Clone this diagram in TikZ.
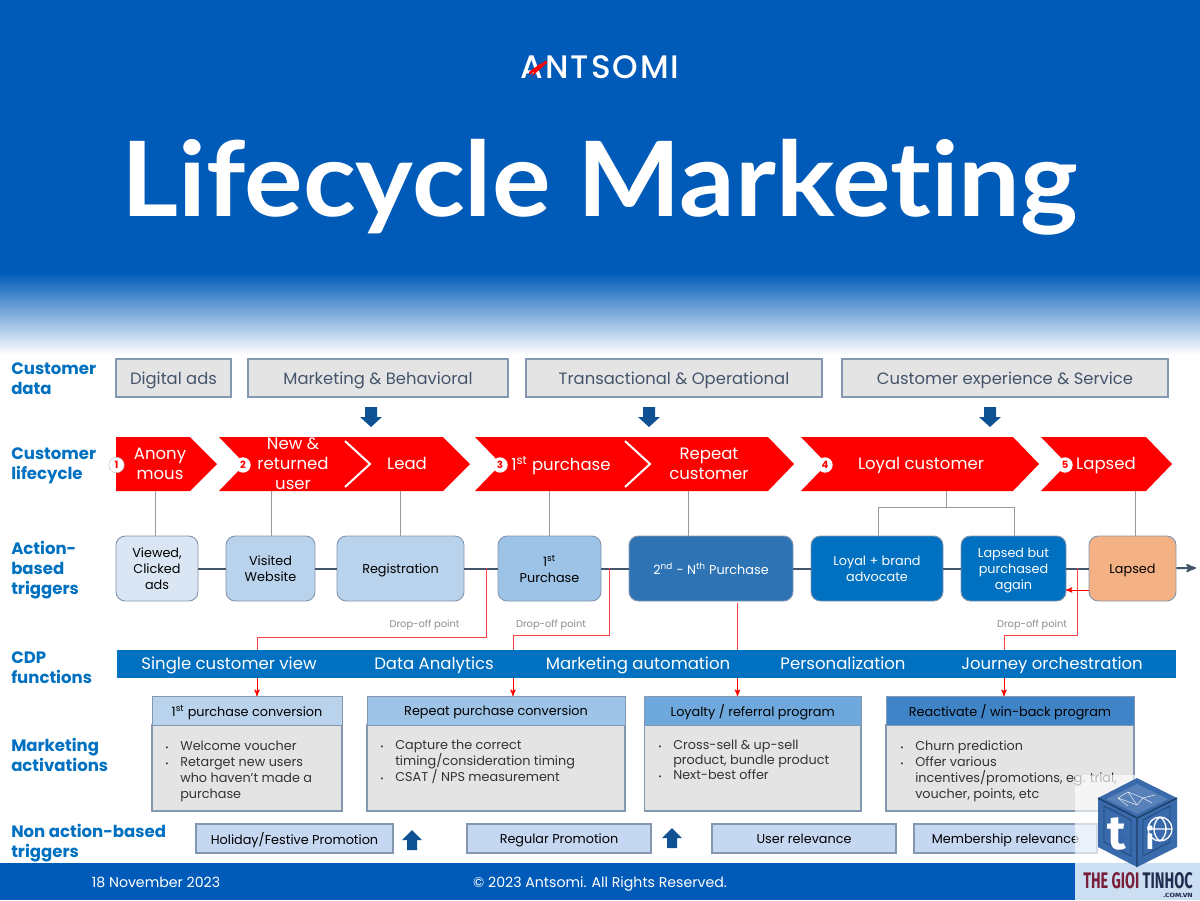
\documentclass[tikz,border=0pt]{standalone}
\usepackage{fontspec}
\setmainfont{Poppins}
\newfontfamily\titlefont[Ligatures=NoCommon]{Lato}
\newfontfamily\logofont[LetterSpace=6]{Poppins Medium}
\newfontfamily\markfont{Fira Sans}
\usetikzlibrary{arrows}
\usetikzlibrary{calc}
\definecolor{brandblue}{HTML}{005BB8}
\definecolor{cdpblue}{HTML}{0070C0}
\definecolor{arrowblue}{HTML}{0F5293}
\definecolor{slateline}{HTML}{44546A}
\definecolor{edgeblue}{HTML}{8497B0}
\definecolor{greyfill}{HTML}{E4E4E4}
\definecolor{greytext}{HTML}{44546A}
\definecolor{pale}{HTML}{DAE6F3}
\definecolor{midblue}{HTML}{BAD3EC}
\definecolor{skyblue}{HTML}{9DC3E6}
\definecolor{steelblue}{HTML}{2E74B5}
\definecolor{loyalhead}{HTML}{6FA8DC}
\definecolor{winhead}{HTML}{3F84C6}
\definecolor{apricot}{HTML}{F4B183}
\definecolor{lightreg}{HTML}{C5D7F1}
\definecolor{markred}{HTML}{7A1F3A}
\definecolor{marknavy}{HTML}{1F2D50}
\definecolor{cubeblue}{HTML}{2F62A8}
\newcommand{\st}{\vphantom{Ag}}
\newcommand{\bul}{\makebox[11.25pt][l]{{\fontsize{6}{6}\selectfont\textbullet}}}
\newcommand{\ind}{\hspace*{11.25pt}}
\tikzset{
  evenbase/.style={execute at begin node=\st, execute at end node=\st, yshift=-1.5pt},
  databox/.style={draw=edgeblue, line width=.8pt, fill=greyfill, inner sep=0, minimum height=28.5pt},
  datatext/.style={evenbase, text=greytext, inner sep=0, font=\fontsize{12.3}{15}\selectfont},
  chevtext/.style={evenbase, text=white, align=center, inner sep=0, font=\fontsize{12.4}{15}\selectfont},
  numdot/.style={circle, fill=white, text=red, inner sep=0, minimum size=11.5pt, font=\fontsize{7.5}{8}\selectfont\bfseries},
  trigbox/.style={draw=edgeblue, line width=.7pt, rounded corners=7pt, inner sep=0, minimum height=48.75pt},
  trigtext/.style={evenbase, align=center, inner sep=0, font=\fontsize{9.6}{12}\selectfont},
  acthead/.style={draw=edgeblue, line width=.7pt, inner sep=0, minimum height=21.75pt},
  headtext/.style={evenbase, inner sep=0, text=black, font=\fontsize{9.6}{12}\selectfont},
  actbody/.style={draw=edgeblue, line width=.8pt, fill=greyfill, inner sep=0, minimum height=64.5pt},
  acttext/.style={anchor=north west, align=left, inner sep=0, text=black!80, font=\fontsize{9.6}{12}\selectfont},
  nonbox/.style={draw=edgeblue, line width=.8pt, fill=lightreg, inner sep=0, minimum height=21.75pt},
  sidelabel/.style={evenbase, anchor=west, align=left, inner sep=0, text=cdpblue, font=\fontsize{12.4}{15}\selectfont\bfseries},
  bandtext/.style={evenbase, text=white, inner sep=0, font=\fontsize{12.4}{15}\selectfont},
  dropnote/.style={evenbase, text=black!45, inner sep=0, font=\fontsize{7.4}{9}\selectfont},
  footnote/.style={evenbase, text=white, inner sep=0, font=\fontsize{10.6}{13}\selectfont},
  linkline/.style={draw=black!40, line width=.6pt},
  redline/.style={draw=red!75, line width=.75pt},
  redtip/.style={draw=red, line width=.75pt, ->, >=stealth'},
}
\begin{document}
\begin{tikzpicture}[x=.75pt, y=-.75pt]
\useasboundingbox (0,0) rectangle (1200,900);
% header
\fill[brandblue] (0,0) rectangle (1200,273);
\shade[top color=brandblue, bottom color=white] (0,273) rectangle (1200,355);
\fill[brandblue] (0,863) rectangle (1200,900);
\node[inner sep=0, text=white] (logo) at (600,67) {\logofont\fontsize{24.4}{28}\selectfont ANTSOMI};
\draw[red, line width=2pt, line cap=round] (530,73) -- (538,67) -- (536,71) -- (546,62);
\node[inner sep=0, text=white] (title) at (600,187) {\titlefont\fontsize{78}{90}\selectfont\bfseries\resizebox*{717.5pt}{72pt}{Lifecycle Marketing}};

% side labels
\foreach \name/\y/\txt in {lbdata/379/{Customer\\data}, lblife/464/{Customer\\lifecycle}, lbaction/568/{Action-\\based\\triggers}, lbcdp/668/{CDP\\functions}, lbact/755/{Marketing\\activations}, lbnon/841/{Non action-based\\triggers}}
  \node[sidelabel] (\name) at (11,\y) {\txt};

% customer data
\foreach \name/\xa/\xb/\txt in {ads/116/231/{Digital ads}, behav/248/508/{Marketing \& Behavioral}, trans/526/822/{Transactional \& Operational}, serv/842/1168/{Customer experience \& Service}} {
  \node[databox, minimum width={(\xb-\xa)*.75pt}] (\name) at ({(\xa+\xb)/2},378) {};
  \node[datatext] (\name text) at (\name) {\txt};
}
\foreach \x in {371,649,990}
  \fill[arrowblue] (\x-6,407) -- (\x+6,407) -- (\x+6,417) -- (\x+11,417) -- (\x,427) -- (\x-11,417) -- (\x-6,417) -- cycle;

% lifecycle chevrons
\fill[red] (116,437) -- (190,437) -- (217,464) -- (190,491) -- (116,491) -- cycle;
\foreach \l/\n/\t in {219/443/470, 475/768/794, 801/1013/1039, 1041/1146/1172}
  \fill[red] (\l,437) -- (\n,437) -- (\t,464) -- (\n,491) -- (\l,491) -- (\l+26,464) -- cycle;
\foreach \x in {345,625}
  \draw[white, line width=1.5pt] (\x,441) -- (\x+25,464) -- (\x,487);
\foreach \name/\x/\txt in {anony/160/{Anony\\mous}, newuser/293/{New \&\\returned\\user}, lead/407/{Lead}, firstbuy/561/{1\textsuperscript{st} purchase}, repeat/709/{Repeat\\customer}, loyal/921/{Loyal customer}, gone/1106/{Lapsed}}
  \node[chevtext] (\name) at (\x,463.5) {\txt};
\foreach \name/\x/\n in {num1/116.5/1, num2/243/2, num3/500/3, num4/825/4, num5/1065/5}
  \node[numdot] (\name) at (\x,465) {\n};
\draw[black!25, line width=.4pt] (num1) circle (7.7);

% triggers
\coordinate (lineend) at (1196,568);
\foreach \name/\xa/\xb/\col/\tcol/\txt in {viewed/116/198/pale/black/{Viewed,\\Clicked\\ads}, visited/226/315/midblue/black/{Visited\\Website}, regist/337/464/midblue/black/{Registration}, first/498/601/skyblue/black/{1\textsuperscript{st}\\Purchase}, nth/629/793/steelblue/white/{2\textsuperscript{nd} - N\textsuperscript{th} Purchase}, brand/811/943/cdpblue/white/{Loyal + brand\\advocate}, again/961/1066/cdpblue/white/{Lapsed but\\purchased\\again}, lapsed/1089/1176/apricot/black/{Lapsed}} {
  \node[trigbox, fill=\col, minimum width={(\xb-\xa)*.75pt}] (\name) at ({(\xa+\xb)/2},568.5) {};
  \node[trigtext, text=\tcol] (\name text) at (\name) {\txt};
}
\foreach \a/\b in {viewed/visited, visited/regist, regist/first, first/nth, nth/brand, brand/again, again/lapsed}
  \draw[slateline, line width=1.5pt] (\a) -- (\b);
\draw[slateline, line width=1.5pt, ->, >=stealth'] (lapsed) -- (lineend);

% links from chevrons to triggers
\foreach \x/\b in {155/viewed, 271/visited, 400/regist, 549/first, 688/nth, 1135/lapsed} {
  \coordinate (top\b) at (\x,491);
  \draw[linkline] (top\b) -- (top\b |- \b.north);
}
\coordinate (toployal) at (946,491);
\coordinate (forkleft) at (878,507);
\coordinate (forkright) at (1014,507);
\draw[linkline] (toployal) -- (toployal |- forkleft);
\draw[linkline] (forkleft |- brand.north) -- (forkleft) -- (forkright) -- (forkright |- again.north);

% drop-off lines
\coordinate (dropa) at (486.5,568);
\coordinate (turna) at (257,637);
\coordinate (dropb) at (609.5,568);
\coordinate (turnb) at (513,635);
\coordinate (dropc) at (737.5,603);
\coordinate (dropd) at (1077,568);
\coordinate (turnd) at (1004,635);
\coordinate (backa) at (1089,590);
\coordinate (backb) at (1066,590);
\draw[redline] (dropa) |- (turna) -- ++(0,15);
\draw[redline] (dropb) |- (turnb) -- ++(0,15);
\draw[redline] (dropc) -- ++(0,48);
\draw[redline] (dropd) |- (turnd) -- ++(0,15);
\draw[redtip] (backa) -- (backb);
\node[dropnote] (notea) at (424.5,623) {Drop-off point};
\node[dropnote] (noteb) at (551,623) {Drop-off point};
\node[dropnote] (noted) at (1032,623) {Drop-off point};

% cdp band
\fill[cdpblue] (117,650) rectangle (1176,678);
\foreach \name/\x/\txt in {bandview/229/{Single customer view}, bandana/434/{Data Analytics}, bandauto/638/{Marketing automation}, bandpers/843/{Personalization}, bandjour/1052/{Journey orchestration}}
  \node[bandtext] (\name) at (\x,663.5) {\txt};

% activations
\foreach \name/\xa/\xb/\col/\txt in {actone/152/342/midblue/{1\textsuperscript{st} purchase conversion}, acttwo/367/625/skyblue/{Repeat purchase conversion}, actthree/644.5/861/loyalhead/{Loyalty / referral program}, actfour/886/1134/winhead/{Reactivate / win-back program}} {
  \node[actbody, minimum width={(\xb-\xa)*.75pt}] (\name body) at ({(\xa+\xb)/2},768) {};
  \node[acthead, fill=\col, minimum width={(\xb-\xa)*.75pt}] (\name) at ({(\xa+\xb)/2},710.5) {};
  \node[headtext] (\name text) at (\name) {\txt};
}
\node[acttext] (txtone) at (165,740.5) {\bul Welcome voucher\\\bul Retarget new users\\\ind who haven't made a\\\ind purchase};
\node[acttext] (txttwo) at (380,740) {\bul Capture the correct\\\ind timing/consideration timing\\\bul CSAT / NPS measurement};
\node[acttext, font=\fontsize{9.6}{11.3}\selectfont] (txtthree) at (658,739.5) {\bul Cross-sell \& up-sell\\\ind product, bundle product\\\bul Next-best offer};
\node[acttext] (txtfour) at (900,740) {\bul Churn prediction\\\bul Offer various\\\ind incentives/promotions, eg. trial,\\\ind voucher, points, etc};
\foreach \c/\x in {tipa/257, tipb/513, tipc/737.5, tipd/1004} {
  \coordinate (\c) at (\x,678);
  \draw[redtip] (\c) -- ++(0,18);
}

% non action-based triggers
\foreach \name/\xa/\xb/\txt in {holiday/196/393/{Holiday/Festive Promotion}, regular/467/651/{Regular Promotion}, relevance/712/896/{User relevance}, member/914/1097/{Membership relevance}} {
  \node[nonbox, minimum width={(\xb-\xa)*.75pt}] (\name) at ({(\xa+\xb)/2},838.5) {};
  \node[headtext] (\name text) at (\name) {\txt};
}
\foreach \x/\y in {412/830, 672/828, 1117/829}
  \fill[arrowblue] (\x,\y) -- (\x+10,\y+10) -- (\x+5,\y+10) -- (\x+5,\y+20) -- (\x-5,\y+20) -- (\x-5,\y+10) -- (\x-10,\y+10) -- cycle;

% footer
\node[footnote] (fdate) at (156,882) {18 November 2023};
\node[footnote] (fcopy) at (600,882) {© 2023 Antsomi. All Rights Reserved.};

% watermark
\fill[white, opacity=.65] (1075,775) rectangle (1200,863);
\fill[white!80!brandblue] (1075,863) rectangle (1200,900);
\fill[cubeblue, opacity=.95] (1137,778) -- (1177,798) -- (1177,847) -- (1137,867) -- (1098,847) -- (1098,798) -- cycle;
\fill[cubeblue!80!white] (1137,784) -- (1168,799) -- (1137,814) -- (1106,799) -- cycle;
\draw[black!40!cubeblue, line width=1pt] (1098,798) -- (1137,818) -- (1177,798) (1137,818) -- (1137,867);
\draw[black!25!cubeblue, line width=.7pt] (1104,806) -- (1131,820) -- (1131,856) -- (1104,842) -- cycle (1170,806) -- (1143,820) -- (1143,856) -- (1170,842) -- cycle;
\foreach \a/\b/\c/\d in {1118/798/1128/792, 1128/792/1143/798, 1143/798/1155/795, 1128/792/1137/805, 1143/798/1137/805, 1118/798/1137/805, 1143/798/1152/803, 1118/798/1128/806}
  \draw[white, line width=.4pt, opacity=.85] (\a,\b) -- (\c,\d);
\node[inner sep=0, text=white] (cubet) at (1117,834) {\markfont\fontsize{36}{36}\selectfont\bfseries t};
\draw[white, line width=1pt] (1160,829) circle (12) (1160,817) .. controls (1152,822) and (1152,836) .. (1160,841) (1160,817) .. controls (1168,822) and (1168,836) .. (1160,841) (1149,829) -- (1171,829);
\node[inner sep=0, text=white] (cubei) at (1150,838) {\markfont\fontsize{22}{22}\selectfont\bfseries i};
\node[inner sep=0, text=markred, anchor=west] (markleft) at (1083,881) {\markfont\bfseries\resizebox{42pt}{12pt}{THE GIOI}};
\node[inner sep=0, text=marknavy, anchor=east] (markright) at (1193,881) {\markfont\bfseries\resizebox{37.5pt}{12pt}{TINHOC}};
\node[inner sep=0, text=marknavy, anchor=east] (markcom) at (1193,895.5) {\markfont\bfseries\resizebox{22pt}{3.2pt}{.COM.VN}};
\end{tikzpicture}
\end{document}
